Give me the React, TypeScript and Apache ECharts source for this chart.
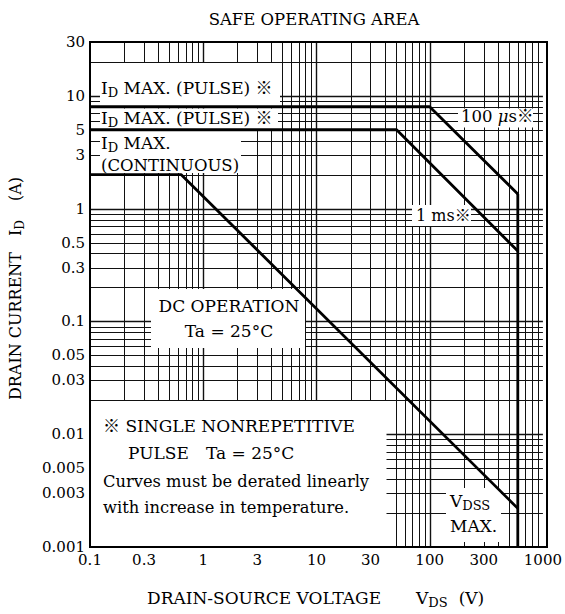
import React, { useEffect, useRef } from "react";
import * as echarts from "echarts";

// ---------- data ----------
const X_MIN = 0.1;
const X_MAX = 1000;
const Y_MIN = 0.001;
const Y_MAX = 30;

const xTickValues = [0.1, 0.3, 1, 3, 10, 30, 100, 300, 1000];
const xTickLabels = ["0.1", "0.3", "1", "3", "10", "30", "100", "300", "1000"];
const yTickValues = [0.001, 0.003, 0.005, 0.01, 0.03, 0.05, 0.1, 0.3, 0.5, 1, 3, 5, 10, 30];
const yTickLabels = ["0.001", "0.003", "0.005", "0.01", "0.03", "0.05", "0.1", "0.3", "0.5", "1", "3", "5", "10", "30"];

const xDecades = [0.1, 1, 10, 100];
const yDecades = [0.001, 0.01, 0.1, 1, 10];
const mantissas = [1, 2, 3, 4, 5, 6, 7, 8, 9];

// SOA boundaries: [V_DS (V), I_D (A)]
const pulse100us = [[0.1, 8], [100, 8], [600, 1.35]];
const pulse1ms = [[0.1, 5], [51, 5], [600, 0.42]];
const dcOperation = [[0.1, 2], [0.64, 2], [600, 0.0022]];
const vdssMax = [[600, 1.35], [600, 0.001]];

// ---------- helpers ----------
const FONT = "'DejaVu Serif', 'Noto Sans CJK JP', serif";

function gridValues(decades: number[], lo: number, hi: number) {
  const out: number[] = [];
  decades.forEach((d) =>
    mantissas.forEach((m) => {
      const v = Number((d * m).toPrecision(6));
      if (v > lo * 1.0001 && v < hi * 0.9999) out.push(v);
    })
  );
  return out;
}
const xGrid = gridValues(xDecades, X_MIN, X_MAX);
const yGrid = gridValues(yDecades, Y_MIN, Y_MAX);

function labelFor(values: number[], labels: string[]) {
  return (v: number) => {
    for (let i = 0; i < values.length; i++) {
      if (Math.abs(Math.log10(v) - Math.log10(values[i])) < 1e-4) return labels[i];
    }
    return "";
  };
}

function rich(size: number, gaps: Record<string, number> = {}) {
  const r: any = {
    n: { fontSize: size, fontFamily: FONT, fill: "#000" },
    s: { fontSize: Math.round(size * 0.78), fontFamily: FONT, fill: "#000", padding: [Math.round(size * 0.55), 0, 0, 0] },
    mu: { fontSize: size, fontFamily: FONT, fontStyle: "italic", fill: "#000" },
  };
  Object.keys(gaps).forEach((k) => (r[k] = { width: gaps[k], fontSize: size }));
  return r;
}

function txt(x: number, y: number, text: string, size = 17, align = "left", extra: any = {}) {
  return {
    type: "text",
    x,
    y,
    z: 20,
    silent: true,
    rotation: extra.rotation || 0,
    style: {
      text,
      fill: "#000",
      fontFamily: FONT,
      fontSize: size,
      textAlign: align,
      textVerticalAlign: "middle",
      rich: rich(size, extra.gaps || {}),
    },
  };
}

function box(x: number, y: number, w: number, h: number) {
  return {
    type: "rect",
    z: 3,
    silent: true,
    shape: { x, y, width: w, height: h },
    style: { fill: "#fff", stroke: null, lineWidth: 0 },
  };
}

function gridRender(vertical: boolean) {
  return (params: any, api: any) => {
    const v = api.value(vertical ? 0 : 1);
    const p1 = vertical ? api.coord([v, Y_MIN]) : api.coord([X_MIN, v]);
    const p2 = vertical ? api.coord([v, Y_MAX]) : api.coord([X_MAX, v]);
    const decade = Math.abs(Math.log10(v) - Math.round(Math.log10(v))) < 1e-6;
    const w = decade ? 1.4 : 1;
    let x1 = p1[0], y1 = p1[1], x2 = p2[0], y2 = p2[1];
    if (vertical) {
      x1 = x2 = Math.round(x1) + 0.5;
    } else {
      y1 = y2 = Math.round(y1) + 0.5;
    }
    return {
      type: "line",
      shape: { x1, y1, x2, y2 },
      style: { stroke: "#111", lineWidth: w },
    };
  };
}

const PLOT = { left: 90, top: 42, right: 547, bottom: 547 };

export default function App() {
  const ref = useRef<HTMLDivElement>(null);
  useEffect(() => {
    const chart = echarts.init(ref.current!, null, { renderer: "svg" });
    const curveStyle = { color: "#000", width: 2.8 };
    const axisLabelBase = { margin: 5, color: "#000", fontFamily: FONT, fontSize: 15 };
    const option: any = {
      animation: false,
      backgroundColor: "#fff",
      grid: {
        left: PLOT.left,
        top: PLOT.top,
        right: 565 - PLOT.right,
        bottom: 614 - PLOT.bottom,
        containLabel: false,
      },
      xAxis: {
        type: "log",
        logBase: 10,
        min: X_MIN,
        max: X_MAX,
        axisLine: { show: false },
        axisTick: { show: false },
        splitLine: { show: false },
        axisLabel: { ...axisLabelBase, customValues: xTickValues, formatter: labelFor(xTickValues, xTickLabels) },
      },
      yAxis: {
        type: "log",
        logBase: 10,
        min: Y_MIN,
        max: Y_MAX,
        axisLine: { show: false },
        axisTick: { show: false },
        splitLine: { show: false },
        axisLabel: { ...axisLabelBase, customValues: yTickValues, formatter: labelFor(yTickValues, yTickLabels) },
      },
      graphic: [
        // white label areas that interrupt the grid
        box(100, 63, 180, 43),
        box(100, 108.5, 178, 20.5),
        box(100, 131, 141, 42),
        box(151, 289, 154, 59),
        box(91, 401, 295.5, 145),
        box(458, 108.5, 75, 19),
        box(412, 205, 59, 21),
        box(446, 488, 55, 54),
        // plot frame
        {
          type: "rect",
          z: 30,
          silent: true,
          shape: { x: PLOT.left, y: PLOT.top, width: PLOT.right - PLOT.left, height: PLOT.bottom - PLOT.top },
          style: { fill: "none", stroke: "#000", lineWidth: 2 },
        },
        // title
        txt(314, 19, "SAFE OPERATING AREA", 16.5, "center"),
        // axis titles
        txt(147, 598, "{n|DRAIN-SOURCE VOLTAGE}{g|}{n|V}{s|DS}{g2|}{n|(V)}", 17, "left", { gaps: { g: 35, g2: 11 } }),
        txt(15, 400, "{n|DRAIN CURRENT}{g|}{n|I}{s|D}{g2|}{n|(A)}", 16, "left", {
          rotation: Math.PI / 2,
          gaps: { g: 16, g2: 19 },
        }),
        // labels
        txt(101, 88, "{n|I}{s|D}{n| MAX. (PULSE) ※}", 17),
        txt(101, 118, "{n|I}{s|D}{n| MAX. (PULSE) ※}", 17),
        txt(101, 143, "{n|I}{s|D}{n| MAX.}", 17),
        txt(101, 165, "(CONTINUOUS)", 16.5),
        txt(461, 116, "{n|100 }{mu|μ}{n|s※}", 16.5),
        txt(416, 215, "1 ms※", 16),
        txt(229, 306, "DC OPERATION", 17, "center"),
        txt(229, 331, "Ta = 25°C", 17, "center"),
        txt(103, 426, "※ SINGLE NONREPETITIVE", 17),
        txt(128, 453, "PULSE", 17),
        txt(206, 453, "Ta = 25°C", 17),
        txt(103, 481, "Curves must be derated linearly", 16.3),
        txt(103, 507, "with increase in temperature.", 16.3),
        txt(450, 501, "{n|V}{s|DSS}", 17),
        txt(450, 526, "MAX.", 17),
      ],
      series: [
        {
          type: "custom",
          name: "vgrid",
          z: 1,
          silent: true,
          renderItem: gridRender(true),
          data: xGrid.map((v) => [v, 1]),
        },
        {
          type: "custom",
          name: "hgrid",
          z: 1,
          silent: true,
          renderItem: gridRender(false),
          data: yGrid.map((v) => [1, v]),
        },
        { type: "line", name: "100 μs", data: pulse100us, symbol: "none", z: 10, silent: true, lineStyle: curveStyle },
        { type: "line", name: "1 ms", data: pulse1ms, symbol: "none", z: 10, silent: true, lineStyle: curveStyle },
        { type: "line", name: "DC", data: dcOperation, symbol: "none", z: 10, silent: true, lineStyle: curveStyle },
        { type: "line", name: "VDSS", data: vdssMax, symbol: "none", z: 10, silent: true, lineStyle: curveStyle },
      ],
    };
    chart.setOption(option);
    return () => chart.dispose();
  }, []);
  return (
    <div
      ref={ref}
      style={{ position: "absolute", left: 0, top: 0, width: 565, height: 614, background: "#fff" }}
    />
  );
}
